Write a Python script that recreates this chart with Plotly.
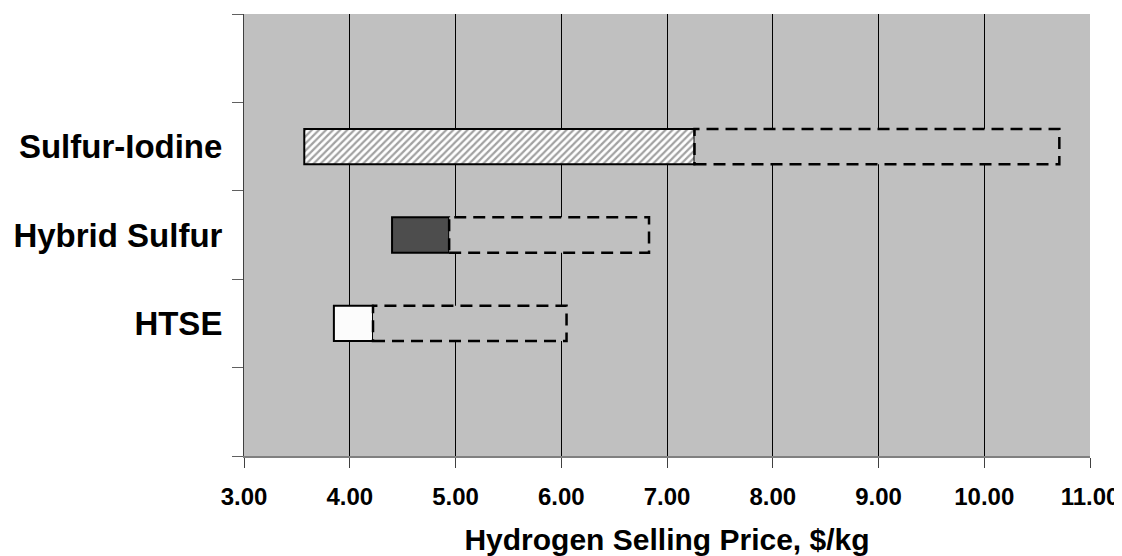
import plotly.graph_objects as go

# Data (USD/kg)
processes = ["Sulfur-Iodine", "Hybrid Sulfur", "HTSE"]
low_price = [3.57, 4.40, 3.85]
base_price = [7.26, 4.94, 4.22]
high_price = [10.71, 6.83, 6.05]
x_ticks = [3, 4, 5, 6, 7, 8, 9, 10, 11]

category_order = ["  ", "HTSE", "Hybrid Sulfur", "Sulfur-Iodine", " "]

solid_colors = ["#ffffff", "#4d4d4d", "#fcfcfc"]
pattern_shapes = ["/", "", ""]
bar_width = 0.4

fig = go.Figure()

# Solid segment: low -> base
fig.add_trace(go.Bar(
    orientation="h",
    y=processes,
    base=low_price,
    x=[b - l for b, l in zip(base_price, low_price)],
    width=bar_width,
    marker=dict(
        color=solid_colors,
        line=dict(color="black", width=2),
        pattern=dict(shape=pattern_shapes, fgcolor="#9a9a9a", bgcolor="#ffffff",
                     size=5, solidity=0.45),
    ),
    showlegend=False,
    hoverinfo="skip",
))

# Uncertainty segment: base -> high (filled with background grey)
fig.add_trace(go.Bar(
    orientation="h",
    y=processes,
    base=base_price,
    x=[h - b for h, b in zip(high_price, base_price)],
    width=bar_width,
    marker=dict(color="#c0c0c0", line=dict(width=0)),
    showlegend=False,
    hoverinfo="skip",
))

# Dashed outlines for the uncertainty segments
shapes = []
for name, b, h in zip(processes, base_price, high_price):
    idx = category_order.index(name)
    shapes.append(dict(
        type="rect", xref="x", yref="y",
        x0=b, x1=h, y0=idx - bar_width / 2, y1=idx + bar_width / 2,
        line=dict(color="black", width=2.5, dash="12px,7px"),
        fillcolor="rgba(0,0,0,0)",
        layer="above",
    ))

# The page body has an 8px margin, so the figure is sized to fit the window.
fig.update_layout(
    width=1114, height=548,
    margin=dict(l=236, r=32, t=6, b=100, autoexpand=False),
    paper_bgcolor="white",
    plot_bgcolor="#c0c0c0",
    barmode="overlay",
    shapes=shapes,
    font=dict(family="Liberation Sans, Arial, sans-serif", color="black"),
    xaxis=dict(
        range=[3, 11],
        tickvals=x_ticks,
        tickformat=".2f",
        automargin=False,
        showgrid=True, gridcolor="black", gridwidth=1,
        showline=True, linecolor="#808080", linewidth=2,
        ticks="outside", ticklen=10, tickcolor="#404040", tickwidth=1,
        tickfont=dict(size=24, family="Liberation Sans, Arial, sans-serif", weight="bold"),
        ticklabelstandoff=8,
        ticklabeloverflow="allow",
        title=dict(text="<b>Hydrogen Selling Price, $/kg</b>",
                   font=dict(size=30), standoff=24),
        zeroline=False,
    ),
    yaxis=dict(
        type="category",
        categoryorder="array",
        categoryarray=category_order,
        range=[-0.5, 4.5],
        tickson="boundaries",
        automargin=False,
        showgrid=False,
        showline=True, linecolor="#404040", linewidth=1,
        ticks="outside", ticklen=11, tickcolor="#606060", tickwidth=1,
        tickfont=dict(size=33, family="Liberation Sans, Arial, sans-serif", weight="bold"),
        ticklabelstandoff=14,
        zeroline=False,
    ),
)

fig.write_html("out.html")
